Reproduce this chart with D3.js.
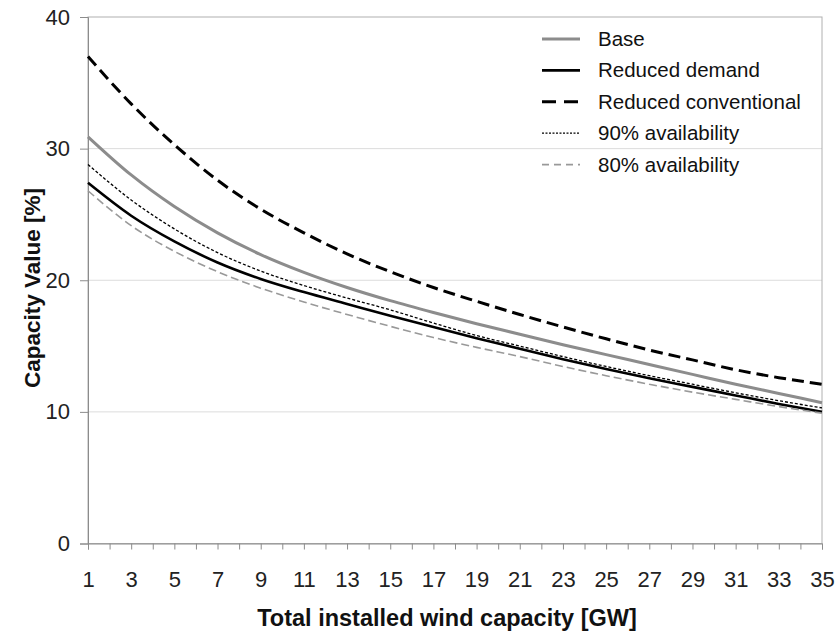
<!DOCTYPE html>
<html>
<head>
<meta charset="utf-8">
<script src="https://cdn.jsdelivr.net/npm/d3@7"></script>
<style>
  body { margin: 0; background: #fff; }
  svg { font-family: "Liberation Sans", Arial, sans-serif; }
</style>
</head>
<body>
<svg width="838" height="635"></svg>
<script>
// wind capacity in GW (odd steps)
const capacity = [1, 3, 5, 7, 9, 11, 13, 15, 17, 19, 21, 23, 25, 27, 29, 31, 33, 35];

const base = [30.9, 28.0, 25.6, 23.6, 21.95, 20.6, 19.45, 18.45, 17.55, 16.7, 15.9, 15.1, 14.35, 13.6, 12.85, 12.1, 11.4, 10.7];
const reducedDemand = [27.4, 24.9, 22.95, 21.35, 20.1, 19.1, 18.2, 17.3, 16.45, 15.6, 14.8, 14.0, 13.25, 12.55, 11.9, 11.25, 10.6, 10.0];
const reducedConventional = [37.0, 33.4, 30.3, 27.6, 25.4, 23.6, 22.0, 20.65, 19.45, 18.4, 17.4, 16.45, 15.55, 14.7, 13.95, 13.2, 12.6, 12.1];
const avail90 = [28.8, 26.1, 23.9, 22.1, 20.7, 19.6, 18.65, 17.75, 16.75, 15.8, 15.0, 14.2, 13.45, 12.75, 12.1, 11.45, 10.85, 10.3];
const avail80 = [26.8, 24.15, 22.2, 20.65, 19.4, 18.35, 17.4, 16.5, 15.65, 14.9, 14.2, 13.45, 12.75, 12.1, 11.5, 10.95, 10.4, 9.9];

const seriesNames = ['Base', 'Reduced demand', 'Reduced conventional', '90% availability', '80% availability'];
const xTickLabels = [1, 3, 5, 7, 9, 11, 13, 15, 17, 19, 21, 23, 25, 27, 29, 31, 33, 35];
const yTickLabels = [0, 10, 20, 30, 40];

// styles per series
const styles = [
  { color: '#8c8c8c', width: 3, dash: null },
  { color: '#000', width: 2.6, dash: null },
  { color: '#000', width: 3, dash: '12,6' },
  { color: '#000', width: 1.3, dash: '3,2' },
  { color: '#999', width: 1.6, dash: '8,4' }
];

const allValues = [base, reducedDemand, reducedConventional, avail90, avail80];
const series = seriesNames.map((name, i) => ({
  name: name,
  style: styles[i],
  points: capacity.map((c, j) => ({ x: c, y: allValues[i][j] }))
}));

const plotLeft = 88, plotRight = 822, plotTop = 17, plotBottom = 543.5;

const xScale = d3.scaleLinear().domain([1, 35]).range([plotLeft, plotRight]);
const yScale = d3.scaleLinear().domain([0, 40]).range([plotBottom, plotTop]);

const svg = d3.select('svg');

// gridlines
svg.append('g')
  .selectAll('line')
  .data(yTickLabels.filter(v => v > 0 && v < 40))
  .enter()
  .append('line')
  .attr('x1', plotLeft).attr('x2', plotRight)
  .attr('y1', d => yScale(d)).attr('y2', d => yScale(d))
  .attr('stroke', '#dcdcdc').attr('stroke-width', 1);

// plot frame
svg.append('rect')
  .attr('x', plotLeft).attr('y', plotTop)
  .attr('width', plotRight - plotLeft).attr('height', plotBottom - plotTop)
  .attr('fill', 'none').attr('stroke', '#b0b0b0').attr('stroke-width', 1);

// y axis
const yAxis = svg.append('g')
  .attr('transform', `translate(${plotLeft},0)`)
  .call(d3.axisLeft(yScale).tickValues(yTickLabels).tickSize(8).tickPadding(10));
yAxis.select('.domain').attr('stroke', '#8c8c8c');
yAxis.selectAll('.tick line').attr('stroke', '#8c8c8c');
yAxis.selectAll('text').attr('font-size', 22).attr('fill', '#222').attr('font-family', '"Liberation Sans", Arial, sans-serif');

// x axis: tick at every GW, labels on odd values
const xAxis = svg.append('g')
  .attr('transform', `translate(0,${plotBottom})`)
  .call(d3.axisBottom(xScale).tickValues(d3.range(1, 36)).tickSize(6).tickPadding(22)
    .tickFormat(d => xTickLabels.includes(d) ? d : ''));
xAxis.select('.domain').attr('stroke', '#8c8c8c');
xAxis.selectAll('.tick line').attr('stroke', '#8c8c8c');
xAxis.selectAll('text').attr('font-size', 22).attr('fill', '#222').attr('font-family', '"Liberation Sans", Arial, sans-serif');

// axis titles
svg.append('text')
  .attr('x', 447).attr('y', 626)
  .attr('text-anchor', 'middle')
  .attr('font-size', 23.5).attr('font-weight', 'bold').attr('fill', '#111')
  .text('Total installed wind capacity [GW]');

svg.append('text')
  .attr('transform', 'translate(40,288) rotate(-90)')
  .attr('text-anchor', 'middle')
  .attr('font-size', 22.5).attr('font-weight', 'bold').attr('fill', '#111')
  .text('Capacity Value [%]');

// lines
const line = d3.line()
  .x(d => xScale(d.x))
  .y(d => yScale(d.y))
  .curve(d3.curveMonotoneX);

svg.append('g')
  .selectAll('path')
  .data(series)
  .enter()
  .append('path')
  .attr('d', d => line(d.points))
  .attr('fill', 'none')
  .attr('stroke', d => d.style.color)
  .attr('stroke-width', d => d.style.width)
  .attr('stroke-dasharray', d => d.style.dash);

// legend
const legendDash = ['', '', '14,8', '2,1.5', '7,5'];
const legend = svg.append('g')
  .selectAll('g')
  .data(series)
  .enter()
  .append('g')
  .attr('transform', (d, i) => `translate(542,${39 + i * 31.4})`);

legend.append('line')
  .attr('x1', 0).attr('x2', 38)
  .attr('stroke', d => d.style.color)
  .attr('stroke-width', d => d.style.width)
  .attr('stroke-dasharray', (d, i) => legendDash[i] || null);

legend.append('text')
  .attr('x', 56).attr('y', 7)
  .attr('font-size', 20.5).attr('fill', '#111')
  .text(d => d.name);
</script>
</body>
</html>
